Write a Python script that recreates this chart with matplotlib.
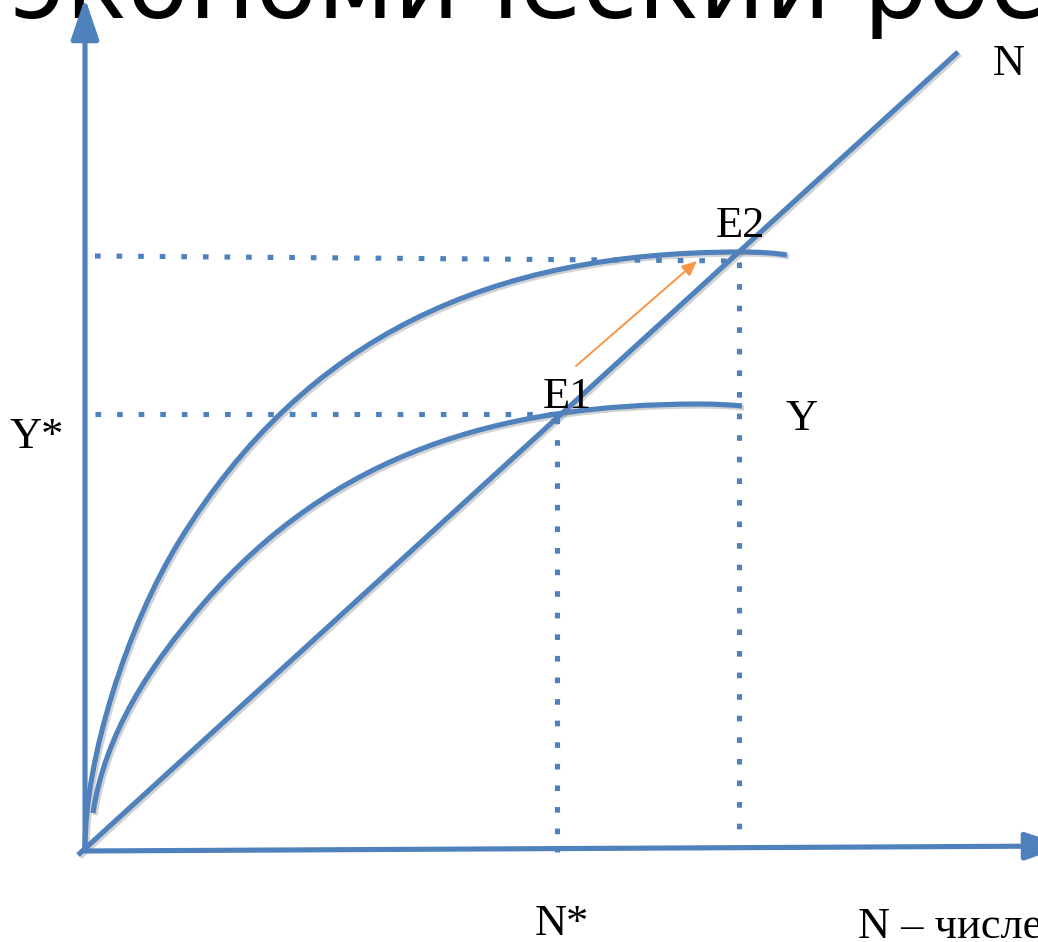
import matplotlib
matplotlib.use("Agg")
import matplotlib.pyplot as plt
import matplotlib.patheffects as pe
from matplotlib.path import Path
from matplotlib.patches import PathPatch

# ---- data (pixel-space diagram coordinates) ----
title_text = "экономический рост"
axis_x_label = "N – численность занятых"
labels = ["N", "E2", "E1", "Y", "Y*", "N*"]
label_x = [993, 716, 543, 785, 10, 535]
label_y = [75, 237, 408, 430, 448, 935]

yaxis_x = [85, 85]
yaxis_y = [850, -2]
xaxis_x = [85, 1066]
xaxis_y = [851, 846]

n_line_x = [78, 958]
n_line_y = [855, 52]

# Bezier control points of the two production curves (upper = shifted Y, lower = Y)
upper_ctrl_x = [85, 85, 127.5, 180, 306, 490, 740, 760, 775, 787]
upper_ctrl_y = [848, 758, 625, 540, 336, 252, 252, 252, 253, 255]
lower_ctrl_x = [93, 105, 150.7, 203, 333.8, 500, 700, 725, 742]
lower_ctrl_y = [813, 733, 664.6, 604, 452.6, 404, 404, 404, 406]

dot_h1_x = [95, 555]
dot_h1_y = [414, 414]
dot_h2_x = [95, 740]
dot_h2_y = [256, 261]
dot_v1_x = [557, 557]
dot_v1_y = [418, 852]
dot_v2_x = [739, 739]
dot_v2_y = [262, 842]

shift_start = (576, 366)
shift_end = (697, 261)

BLUE = "#4F81BD"
ORANGE = "#F79646"

fig = plt.figure(figsize=(10.38, 9.42), dpi=100)
ax = fig.add_axes([0, 0, 1, 1])
ax.set_xlim(0, 1038)
ax.set_ylim(942, 0)
ax.axis("off")

shadow = [pe.SimpleLineShadow(offset=(1.5, -1.5), shadow_color="gray", alpha=0.35), pe.Normal()]
LW = 3.7

# title (cut off at top)
ax.text(10, 18, title_text, fontsize=73, family="DejaVu Sans", color="black", va="baseline", ha="left")

# curves
upper_codes = [Path.MOVETO] + [Path.CURVE4] * 9
lower_codes = [Path.MOVETO] + [Path.CURVE4] * 6 + [Path.CURVE3] * 2
for cx, cy, codes in [(upper_ctrl_x, upper_ctrl_y, upper_codes), (lower_ctrl_x, lower_ctrl_y, lower_codes)]:
    patch = PathPatch(Path(list(zip(cx, cy)), codes), facecolor="none", edgecolor=BLUE, lw=LW,
                      capstyle="butt", joinstyle="round", path_effects=shadow)
    ax.add_patch(patch)

ax.plot(n_line_x, n_line_y, color=BLUE, lw=LW, solid_capstyle="butt", path_effects=shadow)

# dotted guides
for xs, ys in [(dot_h1_x, dot_h1_y), (dot_h2_x, dot_h2_y), (dot_v1_x, dot_v1_y), (dot_v2_x, dot_v2_y)]:
    ax.plot(xs, ys, color=BLUE, lw=LW, linestyle=(0, (1.1, 3.1)), dash_capstyle="butt")

# axes with arrowheads
arrow_kw = dict(arrowstyle="-|>,head_length=2.5,head_width=0.85", color=BLUE, lw=LW,
                shrinkA=0, shrinkB=0, mutation_scale=10)
ax.annotate("", xy=(yaxis_x[1], yaxis_y[1]), xytext=(yaxis_x[0], yaxis_y[0]), arrowprops=arrow_kw,
            annotation_clip=False)
ax.annotate("", xy=(xaxis_x[1], xaxis_y[1]), xytext=(xaxis_x[0], xaxis_y[0]), arrowprops=arrow_kw,
            annotation_clip=False)

# orange shift arrow
ax.annotate("", xy=shift_end, xytext=shift_start,
            arrowprops=dict(arrowstyle="-|>,head_length=0.9,head_width=0.4", color=ORANGE, lw=1.4,
                            shrinkA=0, shrinkB=0, mutation_scale=10), annotation_clip=False)

# labels
for t, x, y in zip(labels, label_x, label_y):
    ax.text(x, y, t, fontsize=32, family="Liberation Serif", color="black", va="baseline", ha="left")
ax.text(858, 938, axis_x_label, fontsize=32, family="Liberation Serif", color="black", va="baseline", ha="left")

fig.savefig("out.png", dpi=100)
